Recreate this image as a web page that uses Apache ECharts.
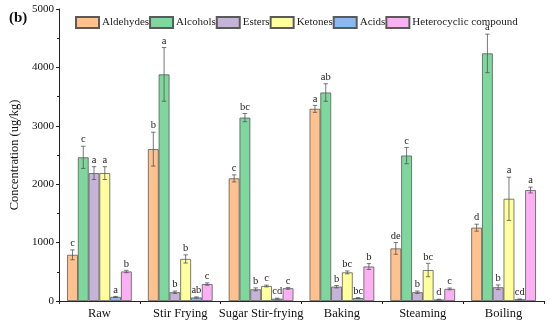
<!DOCTYPE html>
<html>
<head>
<meta charset="utf-8">
<script src="https://cdn.jsdelivr.net/npm/echarts@6/dist/echarts.min.js"></script>
<style>
html,body{margin:0;padding:0;background:#fff;}
#chart{width:550px;height:325px;}
</style>
</head>
<body>
<div id="chart"></div>
<script>
const categories = ["Raw", "Stir Frying", "Sugar Stir-frying", "Baking", "Steaming", "Boiling"];
const seriesNames = ["Aldehydes", "Alcohols", "Esters", "Ketones", "Acids", "Heterocyclic compound"];
const yTicks = [0, 1000, 2000, 3000, 4000, 5000];

const aldehydes = [790, 2600, 2100, 3290, 900, 1255];
const alcohols  = [2460, 3880, 3140, 3570, 2490, 4240];
const esters    = [2190, 150, 200, 245, 150, 235];
const ketones   = [2190, 720, 257, 490, 530, 1750];
const acids     = [70, 60, 40, 50, 25, 30];
const hetero    = [505, 290, 218, 590, 207, 1900];

const aldehydesErr = [85, 290, 60, 60, 100, 60];
const alcoholsErr  = [190, 460, 70, 150, 140, 330];
const estersErr    = [110, 20, 25, 20, 20, 40];
const ketonesErr   = [110, 70, 15, 25, 115, 370];
const acidsErr     = [8, 10, 8, 8, 5, 5];
const heteroErr    = [20, 20, 15, 50, 15, 50];

const aldehydesSig = ["c", "b", "c", "a", "de", "d"];
const alcoholsSig  = ["c", "a", "bc", "ab", "c", "a"];
const estersSig    = ["a", "b", "b", "b", "b", "b"];
const ketonesSig   = ["a", "b", "c", "bc", "bc", "a"];
const acidsSig     = ["a", "ab", "cd", "bc", "d", "cd"];
const heteroSig    = ["b", "c", "c", "b", "c", "a"];

const values = [aldehydes, alcohols, esters, ketones, acids, hetero];
const errors = [aldehydesErr, alcoholsErr, estersErr, ketonesErr, acidsErr, heteroErr];
const sigs = [aldehydesSig, alcoholsSig, estersSig, ketonesSig, acidsSig, heteroSig];
const colors = ["#FFC28F", "#7ED79C", "#C6B3D8", "#FFFF9E", "#8AB9EE", "#FCB0F4"];

const FONT = "Liberation Serif";
const GAP = 0.2;
const N = seriesNames.length;

const series = [];
seriesNames.forEach((name, k) => {
  series.push({
    name: name,
    type: 'bar',
    data: values[k],
    barGap: '0%',
    barCategoryGap: (GAP * 100) + '%',
    itemStyle: { color: colors[k], borderColor: '#5a5a5a', borderWidth: 0.8 },
    z: 2
  });
});
seriesNames.forEach((name, k) => {
  series.push({
    name: name + '_err',
    type: 'custom',
    z: 5,
    data: categories.map((c, i) => [i, values[k][i], errors[k][i]]),
    renderItem: function (params, api) {
      const i = api.value(0), v = api.value(1), e = api.value(2);
      const band = api.size([1, 0])[0];
      const groupW = band * (1 - GAP);
      const bw = groupW / N;
      const base = api.coord([i, v]);
      const cx = base[0] - groupW / 2 + (k + 0.5) * bw;
      const yt = api.coord([i, v + e])[1];
      const yb = api.coord([i, Math.max(0, v - e)])[1];
      const cap = 2.2;
      const st = { stroke: '#555', lineWidth: 0.8 };
      return {
        type: 'group',
        children: [
          { type: 'line', shape: { x1: cx, y1: yt, x2: cx, y2: yb }, style: st },
          { type: 'line', shape: { x1: cx - cap, y1: yt, x2: cx + cap, y2: yt }, style: st },
          { type: 'line', shape: { x1: cx - cap, y1: yb, x2: cx + cap, y2: yb }, style: st },
          { type: 'text', style: { text: sigs[k][params.dataIndex], x: cx, y: yt - 1,
              align: 'center', verticalAlign: 'bottom', fontFamily: FONT, fontSize: 10.5,
              fill: '#222' } }
        ]
      };
    }
  });
});

const chart = echarts.init(document.getElementById('chart'), null, { renderer: 'canvas' });
chart.setOption({
  animation: false,
  backgroundColor: '#fff',
  grid: { left: 57, right: 6, top: 9, bottom: 24, containLabel: false },
  title: {
    text: '(b)', left: 4, top: 6,
    textStyle: { fontFamily: FONT, fontSize: 15, fontWeight: 'bold', color: '#111' }
  },
  legend: {
    data: seriesNames,
    left: 70, top: 11,
    icon: 'rect',
    itemWidth: 23, itemHeight: 11, itemGap: 0,
    textStyle: { fontFamily: FONT, fontSize: 11, color: '#222', padding: [0, 0, 0, -2] }
  },
  xAxis: {
    type: 'category',
    data: categories,
    axisLine: { lineStyle: { color: '#222', width: 1 } },
    axisTick: { show: true, inside: false, length: 3, lineStyle: { color: '#222' } },
    axisLabel: { interval: 0, fontFamily: FONT, fontSize: 12.5, color: '#111', margin: 6 }
  },
  yAxis: {
    type: 'value',
    min: yTicks[0], max: yTicks[yTicks.length - 1], interval: 1000,
    name: 'Concentration (ug/kg)',
    nameLocation: 'middle', nameGap: 38,
    nameTextStyle: { fontFamily: FONT, fontSize: 12.5, color: '#111' },
    axisLine: { show: true, lineStyle: { color: '#222', width: 1 } },
    axisTick: { show: true, length: 3, lineStyle: { color: '#222' } },
    minorTick: { show: true, splitNumber: 2, length: 2, lineStyle: { color: '#222' } },
    splitLine: { show: false },
    axisLabel: { fontFamily: FONT, fontSize: 11, color: '#111', margin: 5,
      formatter: function (v) { return String(v); } }
  },
  series: series
});
</script>
</body>
</html>
